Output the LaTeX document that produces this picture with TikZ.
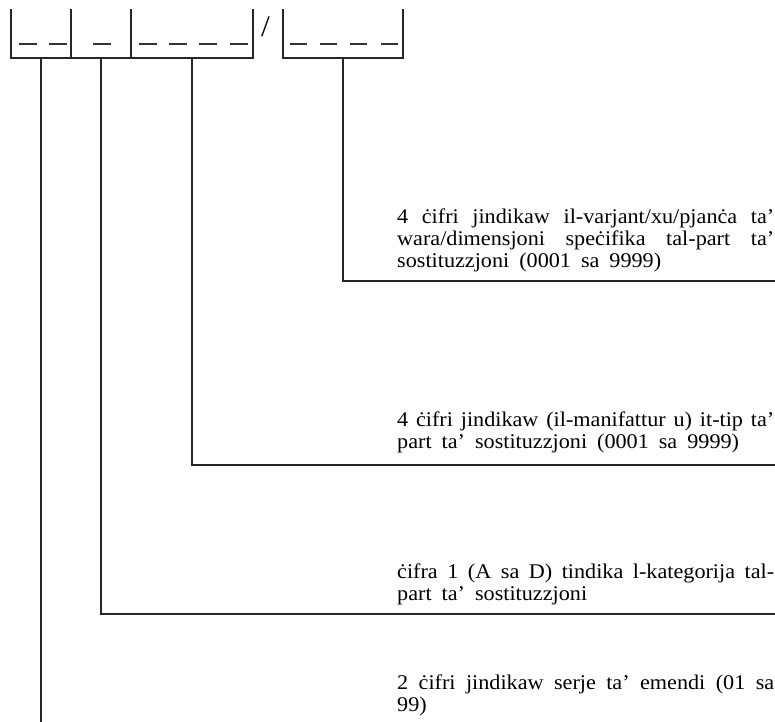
\documentclass[tikz,border=0pt]{standalone}
\usepackage{fontspec}
\setmainfont{Liberation Serif}[FakeStretch=1.06,WordSpace=1.8]
\begin{document}
\begin{tikzpicture}[x=1bp,y=-1bp,
  ln/.style={line width=1.4bp, draw=black!85},
  dsh/.style={line width=1.2bp, draw=black!80},
  txt/.style={anchor=base west, inner sep=0pt, font=\fontsize{21}{24}\selectfont}]
\useasboundingbox (0,0) rectangle (775,722);
% code boxes
\draw[ln] (11,9) -- (11,58) -- (253,58) -- (253,9);
\draw[ln] (71,9) -- (71,58);
\draw[ln] (131,9) -- (131,58);
\draw[ln] (283,9) -- (283,58) -- (403,58) -- (403,9);
% dashes
\foreach \a/\b in {19/37,49/67,93/111,139/157,169/187,199/217,230/248,290/307,320/337,350/367,381/398}
  \draw[dsh] (\a,44) -- (\b,44);
\node[txt, font=\fontsize{30}{32}\selectfont] (slash) at (261,37) {/};
% leader start points
\coordinate (b1) at (41,58);
\coordinate (b2) at (101,58);
\coordinate (b3) at (192,58);
\coordinate (b4) at (343,58);
% leader end points
\coordinate (e1) at (41,722);
\coordinate (e2) at (775,614);
\coordinate (e3) at (775,465);
\coordinate (e4) at (775,281);
\draw[ln] (b1) -- (e1);
\draw[ln] (b2) |- (e2);
\draw[ln] (b3) |- (e3);
\draw[ln] (b4) |- (e4);
% texts
\node[txt] (t1a) at (397,223) {\makebox[377bp][s]{4 ċifri jindikaw il-varjant/xu/pjanċa ta’}};
\node[txt] (t1b) at (397,245) {\makebox[377bp][s]{wara/dimensjoni speċifika tal-part ta’}};
\node[txt] (t1c) at (397,267) {sostituzzjoni (0001 sa 9999)};
\node[txt] (t2a) at (397,426) {\makebox[377bp][s]{4 ċifri jindikaw (il-manifattur u) it-tip ta’}};
\node[txt] (t2b) at (397,448) {part ta’ sostituzzjoni (0001 sa 9999)};
\node[txt] (t3a) at (397,578) {\makebox[377bp][s]{ċifra 1 (A sa D) tindika l-kategorija tal-}};
\node[txt] (t3b) at (397,600) {part ta’ sostituzzjoni};
\node[txt] (t4a) at (397,689) {\makebox[377bp][s]{2 ċifri jindikaw serje ta’ emendi (01 sa}};
\node[txt] (t4b) at (397,711) {99)};
\end{tikzpicture}
\end{document}
